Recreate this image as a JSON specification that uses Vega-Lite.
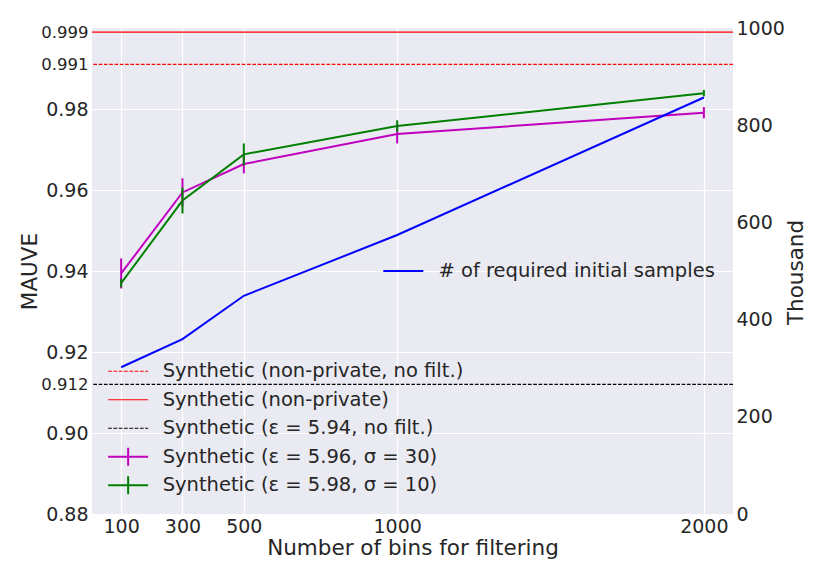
{
  "$schema": "https://vega.github.io/schema/vega-lite/v6.json",
  "width": 641,
  "height": 486,
  "autosize": "none",
  "padding": {"left": 92, "top": 28, "right": 97, "bottom": 67},
  "background": "white",
  "config": {
    "font": "DejaVu Sans",
    "view": {"fill": "#EAEAF2", "stroke": null},
    "axis": {
      "domain": false,
      "ticks": false,
      "gridColor": "white",
      "gridWidth": 1.2,
      "labelColor": "#262626",
      "titleColor": "#262626",
      "labelFontSize": 19,
      "titleFontSize": 21.5,
      "titleFontWeight": "normal",
      "labelFont": "DejaVu Sans",
      "titleFont": "DejaVu Sans"
    },
    "legend": {
      "labelFont": "DejaVu Sans",
      "labelColor": "#262626",
      "labelFontSize": 19.5,
      "labelLimit": 0,
      "padding": 0
    }
  },
  "datasets": {
    "hlines": [
      {"series": "Synthetic (non-private, no filt.)", "mauve": 0.991},
      {"series": "Synthetic (non-private)", "mauve": 0.999},
      {"series": "Synthetic (ε = 5.94, no filt.)", "mauve": 0.912}
    ],
    "mauve": [
      {"bins": 100, "series": "Synthetic (ε = 5.96, σ = 30)", "mauve": 0.9394, "lo": 0.9357, "hi": 0.9431},
      {"bins": 300, "series": "Synthetic (ε = 5.96, σ = 30)", "mauve": 0.9594, "lo": 0.9559, "hi": 0.9629},
      {"bins": 500, "series": "Synthetic (ε = 5.96, σ = 30)", "mauve": 0.9664, "lo": 0.9641, "hi": 0.9687},
      {"bins": 1000, "series": "Synthetic (ε = 5.96, σ = 30)", "mauve": 0.9738, "lo": 0.9715, "hi": 0.9761},
      {"bins": 2000, "series": "Synthetic (ε = 5.96, σ = 30)", "mauve": 0.9791, "lo": 0.9777, "hi": 0.9805},
      {"bins": 100, "series": "Synthetic (ε = 5.98, σ = 10)", "mauve": 0.937, "lo": 0.936, "hi": 0.938},
      {"bins": 300, "series": "Synthetic (ε = 5.98, σ = 10)", "mauve": 0.9574, "lo": 0.9542, "hi": 0.9606},
      {"bins": 500, "series": "Synthetic (ε = 5.98, σ = 10)", "mauve": 0.9688, "lo": 0.9661, "hi": 0.9715},
      {"bins": 1000, "series": "Synthetic (ε = 5.98, σ = 10)", "mauve": 0.9758, "lo": 0.9744, "hi": 0.9772},
      {"bins": 2000, "series": "Synthetic (ε = 5.98, σ = 10)", "mauve": 0.9839, "lo": 0.9831, "hi": 0.9847}
    ],
    "samples": [
      {"bins": 100, "thousand": 302, "label": "# of required initial samples"},
      {"bins": 300, "thousand": 360, "label": "# of required initial samples"},
      {"bins": 500, "thousand": 449, "label": "# of required initial samples"},
      {"bins": 1000, "thousand": 574, "label": "# of required initial samples"},
      {"bins": 2000, "thousand": 857, "label": "# of required initial samples"}
    ]
  },
  "layer": [
    {
      "encoding": {
        "y": {
          "type": "quantitative",
          "scale": {"domain": [0.88, 1.0], "nice": false, "zero": false},
          "axis": {
            "orient": "left",
            "title": "MAUVE",
            "values": [0.88, 0.9, 0.912, 0.92, 0.94, 0.96, 0.98, 0.991, 0.999],
            "labelExpr": "abs(datum.value*100 - round(datum.value*100)) > 0.01 ? format(datum.value, '.3f') : format(datum.value, '.2f')",
            "labelFontSize": {"condition": {"test": "abs(datum.value*100 - round(datum.value*100)) > 0.01", "value": 16.5}, "value": 19},
            "labelPadding": 4,
            "labelOverlap": false,
            "labelBound": false,
            "labelFlush": false,
            "titleAngle": 270,
            "titleX": -61.5,
            "titleY": 243,
            "titleAlign": "center",
            "titleBaseline": "middle",
            "encode": {"labels": {"update": {"dx": {"signal": "abs(datum.value*100 - round(datum.value*100)) > 0.01 ? -4.5 : 0"}}}}
          }
        },
        "color": {
          "field": "series",
          "type": "nominal",
          "scale": {
            "domain": [
              "Synthetic (non-private, no filt.)",
              "Synthetic (non-private)",
              "Synthetic (ε = 5.94, no filt.)",
              "Synthetic (ε = 5.96, σ = 30)",
              "Synthetic (ε = 5.98, σ = 10)"
            ],
            "range": ["#FF0000", "#FF0000", "#000000", "#BF00BF", "#008000"]
          },
          "legend": {
            "title": null,
            "orient": "none",
            "legendX": 26.4,
            "legendY": 333.5,
            "symbolType": "stroke",
            "symbolSize": 1600,
            "symbolStrokeWidth": 1.5,
            "labelOffset": 24.8,
            "gridAlign": "all",
            "rowPadding": 1.5,
            "encode": {
              "symbols": {
                "update": {
                  "shape": {"signal": "indexof('' + datum.value, 'σ') >= 0 ? 'M-1,0H1M0,-0.45V0.45' : 'M-1,0H1'"},
                  "strokeDash": {"signal": "indexof('' + datum.value, 'no filt') >= 0 ? [3.7, 1.6] : [1, 0]"},
                  "strokeWidth": {"signal": "indexof('' + datum.value, 'σ') >= 0 ? 2 : 1.2"},
                  "fill": {"value": "transparent"}
                }
              }
            }
          }
        }
      },
      "layer": [
        {
          "data": {"name": "hlines"},
          "mark": {"type": "rule", "strokeWidth": 1.2},
          "encoding": {
            "y": {"field": "mauve", "type": "quantitative"},
            "strokeDash": {
              "field": "series",
              "type": "nominal",
              "scale": {
                "domain": [
                  "Synthetic (non-private, no filt.)",
                  "Synthetic (non-private)",
                  "Synthetic (ε = 5.94, no filt.)"
                ],
                "range": [[3.7, 1.6], [1, 0], [3.7, 1.6]]
              },
              "legend": null
            }
          }
        },
        {
          "data": {"name": "mauve"},
          "mark": {"type": "line", "strokeWidth": 2},
          "encoding": {
            "x": {
              "field": "bins",
              "type": "quantitative",
              "scale": {"domain": [5, 2095], "nice": false, "zero": false},
              "axis": {
                "title": "Number of bins for filtering",
                "values": [100, 300, 500, 1000, 2000],
                "format": "d",
                "labelPadding": 3,
                "labelFlush": false,
                "labelOverlap": false,
                "titleY": 40.5,
                "titleBaseline": "alphabetic"
              }
            },
            "y": {"field": "mauve", "type": "quantitative"}
          }
        },
        {
          "data": {"name": "mauve"},
          "mark": {"type": "rule", "strokeWidth": 2},
          "encoding": {
            "x": {"field": "bins", "type": "quantitative"},
            "y": {"field": "lo", "type": "quantitative"},
            "y2": {"field": "hi"}
          }
        }
      ]
    },
    {
      "data": {"name": "samples"},
      "mark": {"type": "line", "strokeWidth": 2},
      "encoding": {
        "x": {"field": "bins", "type": "quantitative"},
        "y": {
          "field": "thousand",
          "type": "quantitative",
          "scale": {"domain": [0, 1000], "nice": false},
          "axis": {
            "orient": "right",
            "title": "Thousand",
            "values": [0, 200, 400, 600, 800, 1000],
            "format": "d",
            "labelPadding": 3,
            "labelFlush": false,
            "labelOverlap": false,
            "titleAngle": 270,
            "titleX": 63,
            "titleY": 244,
            "titleAlign": "center",
            "titleBaseline": "middle"
          }
        },
        "color": {
          "field": "label",
          "type": "nominal",
          "scale": {"range": ["#0000FF"]},
          "legend": {
            "title": null,
            "orient": "none",
            "legendX": 290.3,
            "legendY": 222,
            "symbolType": "stroke",
            "symbolSize": 1600,
            "symbolStrokeWidth": 2,
            "labelOffset": 14.2
          }
        }
      }
    }
  ],
  "resolve": {"scale": {"y": "independent", "color": "independent"}, "legend": {"color": "independent"}}
}
